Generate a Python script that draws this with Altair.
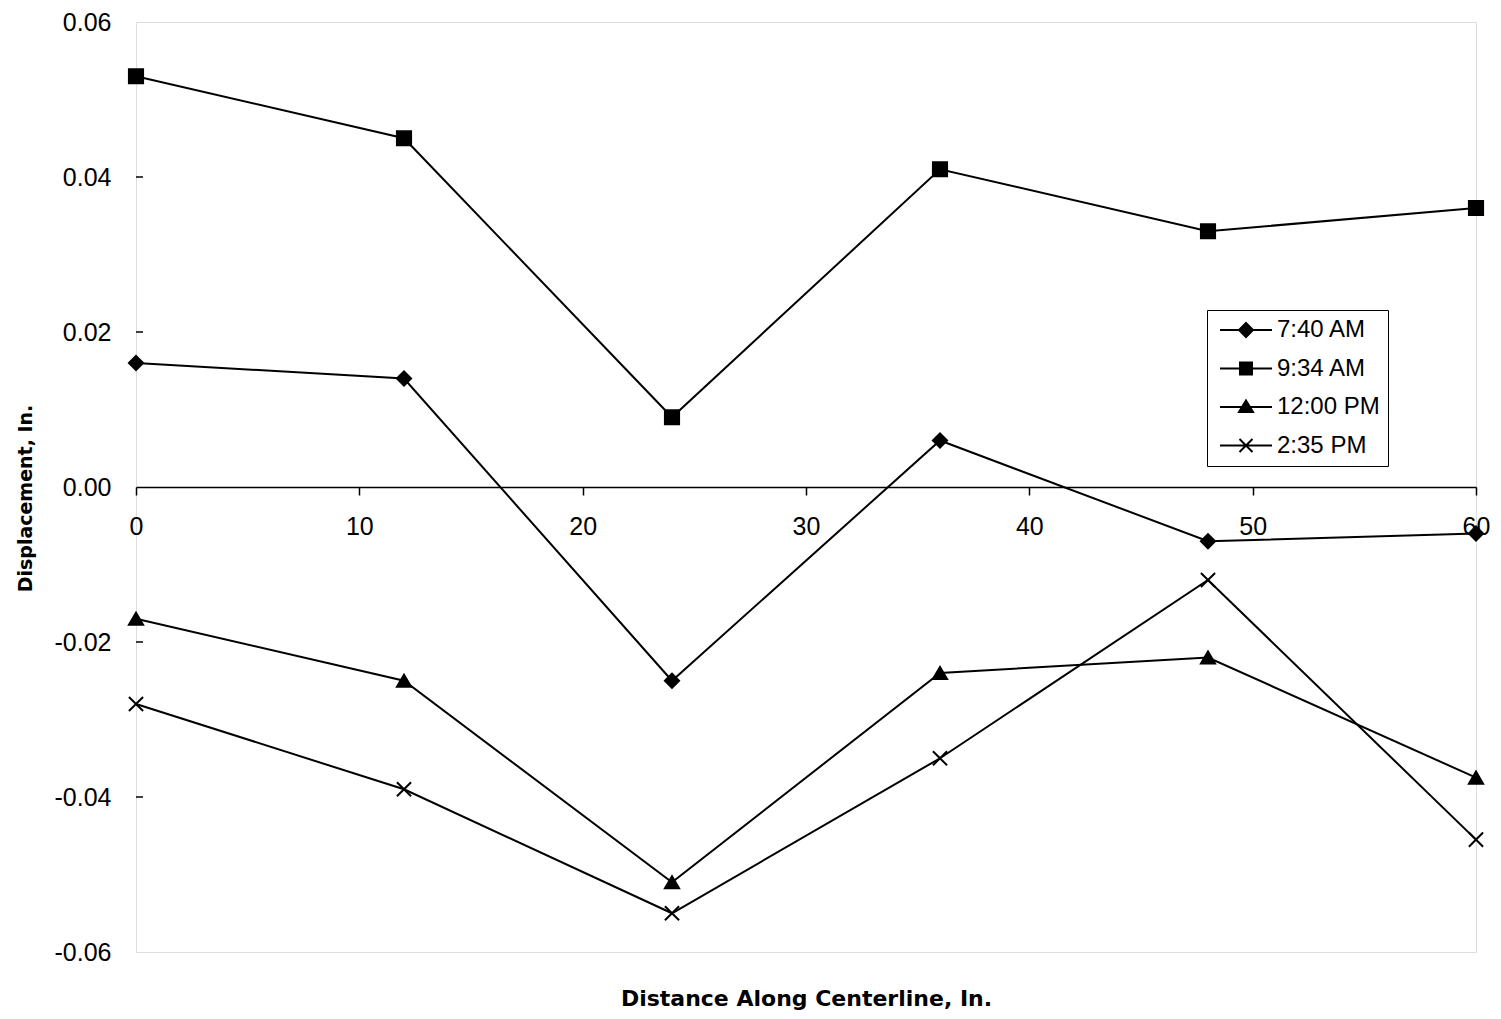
import altair as alt
import pandas as pd

# ---- data ----
distance = [0, 12, 24, 36, 48, 60]
series_names = ["7:40 AM", "9:34 AM", "12:00 PM", "2:35 PM"]
s_0740 = [0.016, 0.014, -0.025, 0.006, -0.007, -0.006]
s_0934 = [0.053, 0.045, 0.009, 0.041, 0.033, 0.036]
s_1200 = [-0.017, -0.025, -0.051, -0.024, -0.022, -0.0375]
s_1435 = [-0.028, -0.039, -0.055, -0.035, -0.012, -0.0455]
y_ticks = [-0.06, -0.04, -0.02, 0.0, 0.02, 0.04, 0.06]
x_ticks = [0, 10, 20, 30, 40, 50, 60]
inner_ticks = [-0.04, -0.02, 0.02, 0.04]

rows = []
for name, vals in zip(series_names, [s_0740, s_0934, s_1200, s_1435]):
    for d, v in zip(distance, vals):
        rows.append({"series": name, "distance": d, "disp": v})
df = pd.DataFrame(rows)
ticks_df = pd.DataFrame({"t": inner_ticks})

FONT = "Liberation Sans"
W, H = 1340, 930

x_enc = alt.X(
    "distance:Q",
    scale=alt.Scale(domain=[0, 60], nice=False, zero=False),
    axis=alt.Axis(
        values=x_ticks, offset=-465, grid=False, domain=True,
        domainColor="black", domainWidth=1.5, ticks=True, tickSize=8,
        tickColor="black", tickWidth=1.5, labelFontSize=25, labelFont=FONT,
        labelColor="black", labelPadding=19, labelFlush=False, labelOverlap=False,
        title="Distance Along Centerline, In.", titleFont="DejaVu Sans",
        titleFontSize=22, titleFontWeight="bold", titleColor="black",
        titleY=511, titleBaseline="middle",
    ),
)
y_enc = alt.Y(
    "disp:Q",
    scale=alt.Scale(domain=[-0.06, 0.06], nice=False, zero=False),
    axis=alt.Axis(
        values=y_ticks, grid=False, domain=False, ticks=False,
        labelExpr="replace(format(datum.value, '.2f'), '\u2212', '-')",
        labelFontSize=25, labelFont=FONT, labelColor="black", labelPadding=25,
        labelFlush=False, labelOverlap=False, labelBaseline="middle",
        title="Displacement, In.", titleFont="DejaVu Sans", titleFontSize=19,
        titleFontWeight="bold", titleColor="black", titleAngle=270,
        titleX=-111, titleY=H / 2 + 11, titleAlign="center", titleBaseline="middle",
    ),
)

lines = alt.Chart(df).mark_line(color="black", strokeWidth=2).encode(
    x=x_enc, y=y_enc, detail="series:N", order="distance:Q"
)

point_shapes = ["diamond", "square", "triangle-up", "M-1,-1L1,1M1,-1L-1,1"]
points = alt.Chart(df).mark_point(
    filled=True, color="black", stroke="black", strokeWidth=2, opacity=1, size=200
).encode(
    x="distance:Q",
    y="disp:Q",
    shape=alt.Shape("series:N", scale=alt.Scale(domain=series_names, range=point_shapes), legend=None),
)

# legend symbols: a short line with a (stroke-filled) marker in its middle
legend_shapes = [
    "M-2.6,0L2.6,0"
    "M0,-0.7L0.7,0L0,0.7L-0.7,0Z"
    "M0,-0.5L0.5,0L0,0.5L-0.5,0Z"
    "M0,-0.3L0.3,0L0,0.3L-0.3,0Z"
    "M0,-0.1L0.1,0L0,0.1L-0.1,0Z",
    "M-2.6,0L2.6,0"
    "M-0.6,-0.6L0.6,-0.6L0.6,0.6L-0.6,0.6Z"
    "M-0.4,-0.4L0.4,-0.4L0.4,0.4L-0.4,0.4Z"
    "M-0.2,-0.2L0.2,-0.2L0.2,0.2L-0.2,0.2Z",
    "M-2.6,0L2.6,0"
    "M0,-0.65L0.7,0.5L-0.7,0.5Z"
    "M0,-0.42L0.49,0.39L-0.49,0.39Z"
    "M0,-0.19L0.28,0.27L-0.28,0.27Z"
    "M0,0L0.1,0.18L-0.1,0.18Z",
    "M-2.6,0L2.6,0"
    "M-0.65,-0.65L0.65,0.65M0.65,-0.65L-0.65,0.65",
]
legend_layer = alt.Chart(df).mark_point(
    filled=False, color="black", strokeWidth=2, opacity=0, size=400
).encode(
    x="distance:Q",
    y="disp:Q",
    shape=alt.Shape(
        "series:N",
        scale=alt.Scale(domain=series_names, range=legend_shapes),
        legend=alt.Legend(
            title=None, orient="none", legendX=1071, legendY=288,
            padding=8, fillColor="white", strokeColor="black",
            symbolSize=400, symbolStrokeColor="black",
            symbolStrokeWidth=2, symbolOpacity=1, symbolOffset=19,
            labelOffset=19, labelFont=FONT, labelFontSize=24, labelColor="black",
            rowPadding=14.5, labelLimit=300,
        ),
    ),
)

yticks = alt.Chart(ticks_df).mark_rule(color="black", strokeWidth=1.5).encode(
    y="t:Q", x=alt.value(0), x2=alt.value(7)
)

chart = (
    alt.layer(lines, points, legend_layer, yticks)
    .resolve_scale(shape="independent")
    .properties(
        width=W, height=H,
        autosize=alt.AutoSizeParams(type="none"),
        padding={"left": 128, "top": 14, "right": 17, "bottom": 60},
    )
    .configure_view(stroke="black", strokeWidth=1.5)
    .configure_legend(strokeWidth=2)
    .configure(background="white")
)

chart.save("out.html", embed_options={"renderer": "svg", "actions": False})
